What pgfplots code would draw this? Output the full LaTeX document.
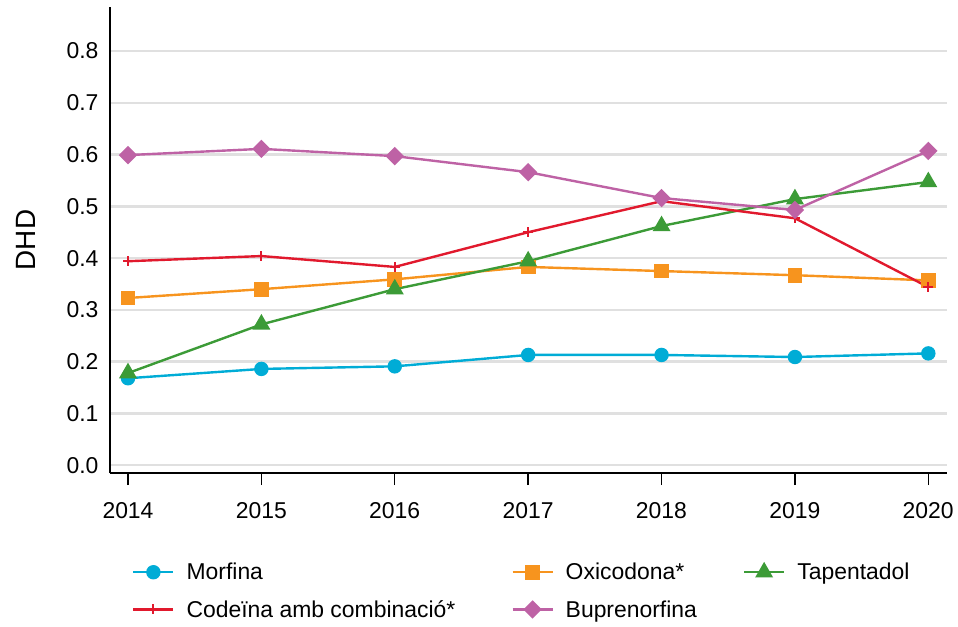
\documentclass[border=0pt]{standalone}
\usepackage{fontspec}
\setmainfont{Liberation Sans}
\usepackage{pgfplots}
\pgfplotsset{compat=1.18}
\definecolor{cMor}{RGB}{0,172,214}
\definecolor{cOxi}{RGB}{247,148,30}
\definecolor{cTap}{RGB}{60,155,55}
\definecolor{cCod}{RGB}{225,25,45}
\definecolor{cBup}{RGB}{190,98,165}
\begin{document}
\begin{tikzpicture}
\begin{axis}[
    name=ax,
    scale only axis,
    width=837bp, height=466bp,
    xmin=2013.865, xmax=2020.14,
    ymin=-0.015, ymax=0.885,
    axis x line*=bottom, axis y line*=left,
    axis line style={line width=1.3bp, black},
    xtick={2014,...,2020},
    ytick={0,0.1,...,0.8},
    x tick label style={/pgf/number format/1000 sep={}, yshift=-14bp},
    y tick label style={/pgf/number format/fixed, /pgf/number format/fixed zerofill, /pgf/number format/precision=1, xshift=4bp},
    /pgf/number format/assume math mode=true,
    tick label style={font=\fontsize{23}{27}\selectfont},
    xtick style={line width=1.3bp, black},
    ytick style={draw=none},
    tick align=outside,
    major tick length=12bp,
    ymajorgrids=true,
    grid style={line width=2.5bp, black!12},
    ylabel={DHD},
    every axis y label/.style={at={(rel axis cs:0,0.5)}, xshift=-84bp, rotate=90, anchor=center,
        font=\fontsize{28}{32}\selectfont},
    legend style={at={(rel axis cs:0,0)}, anchor=north west, xshift=22bp, yshift=-88bp,
        draw=none, inner sep=0pt,
        font=\fontsize{23}{27}\selectfont, column sep=0bp, row sep=15bp,
        /tikz/every odd column/.style={column sep=10bp},
        /tikz/column 2/.style={column sep=54bp},
        /tikz/column 4/.style={column sep=44bp}},
    legend columns=3,
    legend cell align=left,
    legend image code/.code={\draw[mark repeat=2, mark phase=2] plot coordinates {(0bp,0bp) (20bp,0bp) (40bp,0bp)};},
]
\addplot[cMor, line width=2.4bp, mark=*, mark size=6bp] coordinates {
(2014,0.168) (2015,0.186) (2016,0.191) (2017,0.213) (2018,0.213) (2019,0.209) (2020,0.216)};
\addlegendentry{Morfina}
\addplot[cOxi, line width=2.4bp, mark=square*, mark size=6.2bp] coordinates {
(2014,0.323) (2015,0.340) (2016,0.359) (2017,0.383) (2018,0.375) (2019,0.367) (2020,0.357)};
\addlegendentry{Oxicodona*}
\addplot[cTap, line width=2.4bp, mark=triangle*, mark size=8bp] coordinates {
(2014,0.178) (2015,0.272) (2016,0.340) (2017,0.394) (2018,0.462) (2019,0.514) (2020,0.547)};
\addlegendentry{Tapentadol}
\addplot[cCod, line width=2.4bp, mark=+, mark size=5bp, mark options={line width=1.8bp}] coordinates {
(2014,0.394) (2015,0.404) (2016,0.383) (2017,0.450) (2018,0.510) (2019,0.477) (2020,0.344)};
\addlegendentry{Codeïna amb combinació*}
\addplot[cBup, line width=2.4bp, mark=diamond*, mark size=7.5bp, mark options={xscale=1.33}] coordinates {
(2014,0.599) (2015,0.611) (2016,0.597) (2017,0.566) (2018,0.516) (2019,0.493) (2020,0.607)};
\addlegendentry{Buprenorfina}
\end{axis}
\path ([shift={(-110bp,-154bp)}]ax.south west) rectangle ([shift={(848bp,473bp)}]ax.south west);
\end{tikzpicture}
\end{document}
